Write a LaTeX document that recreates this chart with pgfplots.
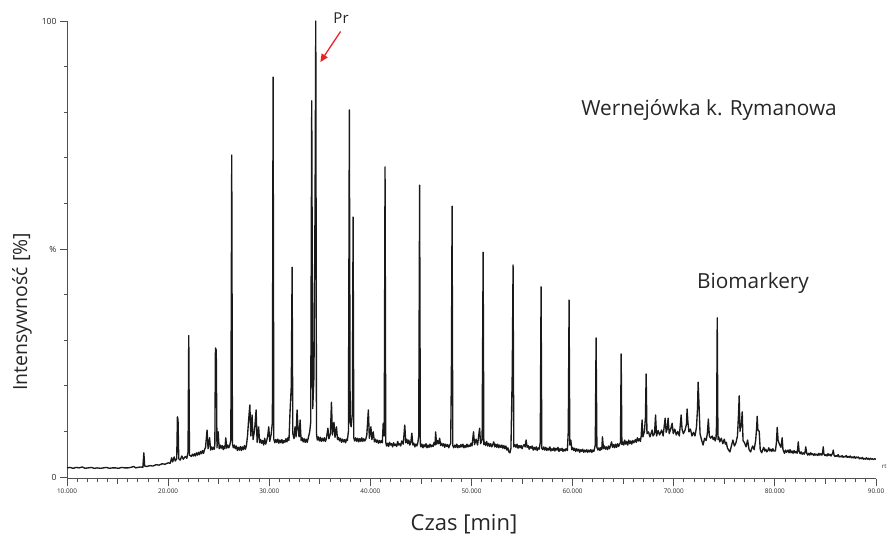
\documentclass[border=0pt]{standalone}
\usepackage{fontspec}
\setmainfont{Open Sans}
\usepackage{pgfplots}
\usepackage{pgfplotstable}
\pgfplotsset{compat=1.18}
\usetikzlibrary{arrows.meta}

\definecolor{prred}{RGB}{236,32,39}
\definecolor{axgray}{RGB}{80,80,80}

% TIC chromatogram: retention time [min], relative intensity [%]
\pgfplotstableread{
t I
10.0 2.0
10.3 2.1
10.6 1.9
10.9 2.1
11.2 2.0
11.5 2.2
11.8 1.9
12.1 2.0
12.4 2.1
12.7 1.9
13.0 2.0
13.3 1.9
13.6 2.0
13.9 2.1
14.2 1.9
14.5 2.0
14.8 2.0
15.1 1.9
15.4 2.1
15.7 2.0
16.0 2.0
16.3 2.1
16.6 2.3
16.8 2.0
17.0 2.1
17.3 2.2
17.5 2.1
17.6 5.3
17.68 2.4
17.9 2.3
18.2 2.5
18.5 2.4
18.8 2.7
19.1 2.6
19.4 2.9
19.7 2.8
20.0 3.1
20.2 3.0
20.35 4.2
20.45 3.3
20.6 4.4
20.7 3.5
20.85 4.0
20.92 13.2
20.98 12.6
21.05 4.0
21.2 3.7
21.35 4.6
21.5 3.9
21.7 4.5
21.85 4.1
21.97 5.5
22.04 31.0
22.11 4.8
22.3 4.5
22.4 5.0
22.5 4.6
22.6 5.1
22.7 4.6
22.8 5.3
22.9 4.8
23.0 5.4
23.1 4.9
23.2 5.6
23.3 5.1
23.4 5.8
23.5 5.2
23.6 6.0
23.7 6.5
23.85 10.3
23.95 6.2
24.1 8.6
24.2 5.9
24.3 6.6
24.4 6.0
24.5 6.5
24.57 6.1
24.62 7.2
24.68 28.3
24.76 27.8
24.83 6.4
24.95 9.9
25.05 6.2
25.15 7.0
25.25 6.3
25.35 6.9
25.45 6.0
25.55 6.8
25.62 6.2
25.7 8.6
25.8 6.3
25.9 7.0
26.0 6.4
26.1 7.0
26.2 8.0
26.29 70.6
26.36 7.2
26.45 6.4
26.55 7.0
26.65 6.2
26.75 6.8
26.85 5.8
26.95 6.5
27.05 5.9
27.15 6.7
27.25 5.8
27.35 6.6
27.45 6.0
27.55 6.9
27.65 6.1
27.75 7.0
27.85 9.0
27.95 12.2
28.08 15.8
28.18 9.0
28.3 13.6
28.4 8.2
28.55 10.3
28.7 14.7
28.8 7.6
28.95 11.0
29.05 7.5
29.15 8.2
29.25 7.4
29.35 8.0
29.45 7.0
29.55 8.5
29.65 7.2
29.75 8.0
29.85 9.0
29.95 11.0
30.05 7.8
30.2 9.5
30.31 12.0
30.38 87.7
30.45 8.3
30.55 7.5
30.65 8.2
30.75 7.6
30.85 8.3
30.95 7.4
31.05 8.1
31.15 7.5
31.25 8.2
31.35 7.4
31.45 8.0
31.55 7.6
31.65 8.4
31.75 7.7
31.85 8.6
31.95 8.0
32.05 14.0
32.18 20.0
32.26 46.0
32.33 9.5
32.45 8.4
32.55 11.0
32.65 8.8
32.75 14.7
32.85 10.3
32.95 8.8
33.05 12.5
33.15 8.0
33.25 8.6
33.35 7.7
33.45 8.4
33.55 7.6
33.65 8.3
33.75 7.6
33.85 8.5
34.0 9.9
34.1 12.0
34.2 82.5
34.3 15.0
34.42 22.0
34.53 60.0
34.6 100.0
34.67 9.5
34.75 8.1
34.85 8.8
34.95 7.9
35.05 8.7
35.15 7.8
35.25 8.5
35.35 7.9
35.45 8.6
35.55 7.8
35.65 8.4
35.8 10.7
35.9 8.4
36.05 9.5
36.15 16.4
36.25 9.2
36.4 12.0
36.5 8.7
36.65 11.0
36.75 8.2
36.85 8.7
36.95 7.9
37.05 8.5
37.15 7.6
37.25 8.3
37.35 7.7
37.45 8.2
37.55 7.5
37.65 8.3
37.72 8.0
37.83 10.0
37.92 80.5
38.0 12.0
38.1 11.0
38.22 14.0
38.29 57.0
38.36 8.6
38.45 7.9
38.55 8.6
38.65 7.8
38.75 8.5
38.85 7.7
38.95 8.4
39.05 7.8
39.15 8.6
39.25 7.8
39.35 8.4
39.45 7.9
39.55 8.3
39.65 9.3
39.8 14.7
39.9 8.5
40.05 11.0
40.15 8.2
40.28 9.9
40.4 7.7
40.5 8.3
40.6 7.6
40.7 8.1
40.8 7.4
40.9 8.0
41.0 7.5
41.1 8.0
41.18 7.5
41.27 11.8
41.37 9.0
41.45 68.0
41.52 7.6
41.6 6.8
41.7 7.4
41.8 6.7
41.9 7.6
42.0 7.0
42.1 7.3
42.2 6.6
42.3 7.5
42.4 6.9
42.5 7.2
42.6 6.7
42.7 7.8
42.8 7.0
42.9 7.3
43.0 6.8
43.1 7.9
43.25 7.2
43.4 11.4
43.5 7.5
43.6 8.3
43.7 7.3
43.8 8.1
43.9 7.0
44.0 7.6
44.1 9.6
44.2 7.0
44.3 7.4
44.4 6.6
44.5 7.2
44.6 6.8
44.7 7.6
44.78 9.0
44.87 64.0
44.94 7.2
45.0 6.6
45.1 7.2
45.2 6.4
45.3 7.1
45.4 6.6
45.5 7.3
45.6 6.4
45.7 7.0
45.8 6.5
45.9 7.2
46.0 6.6
46.1 7.0
46.2 6.7
46.3 7.6
46.4 7.0
46.45 9.9
46.55 7.2
46.65 8.0
46.75 7.3
46.85 8.5
46.95 6.9
47.05 7.4
47.15 6.8
47.25 7.3
47.35 6.5
47.45 7.2
47.55 6.7
47.65 7.1
47.75 6.4
47.85 7.0
47.94 7.4
48.01 22.0
48.08 59.4
48.15 6.9
48.25 6.4
48.35 7.0
48.45 6.5
48.55 7.2
48.65 6.4
48.75 6.9
48.85 6.5
48.95 7.1
49.05 6.6
49.15 7.2
49.25 6.4
49.35 6.9
49.45 6.5
49.55 7.2
49.65 6.6
49.75 7.0
49.85 6.7
49.95 7.4
50.05 6.8
50.2 9.9
50.3 7.1
50.45 8.3
50.6 7.0
50.8 10.7
50.9 7.3
51.05 8.2
51.15 49.3
51.22 7.1
51.3 7.6
51.4 6.9
51.5 7.8
51.6 6.8
51.7 7.4
51.8 6.7
51.9 7.3
52.0 6.6
52.1 7.1
52.2 7.7
52.3 6.6
52.4 7.2
52.5 6.5
52.6 7.2
52.7 6.4
52.8 7.0
52.9 6.5
53.0 7.0
53.1 6.3
53.2 6.9
53.3 6.2
53.4 6.8
53.5 5.9
53.6 6.4
53.7 5.5
53.8 5.3
53.9 6.3
54.03 23.0
54.11 46.5
54.18 6.6
54.3 7.1
54.4 6.5
54.5 7.2
54.6 6.3
54.7 6.9
54.8 6.4
54.9 6.9
55.0 6.2
55.1 6.8
55.2 7.1
55.3 6.6
55.4 8.1
55.5 6.5
55.6 6.9
55.7 6.1
55.8 6.7
55.9 6.3
56.0 6.8
56.1 5.9
56.2 6.5
56.3 6.0
56.4 6.6
56.5 5.8
56.6 6.4
56.7 6.1
56.8 7.6
56.88 41.7
56.95 6.3
57.05 6.0
57.15 6.6
57.25 5.9
57.35 6.5
57.45 5.8
57.55 6.3
57.65 5.9
57.75 6.6
57.85 5.7
57.95 6.2
58.05 5.8
58.15 6.4
58.25 5.7
58.35 6.3
58.45 5.9
58.55 6.5
58.65 5.6
58.75 6.2
58.85 5.8
58.95 6.3
59.05 5.6
59.15 6.1
59.25 5.7
59.35 6.2
59.48 5.8
59.57 10.0
59.65 38.8
59.72 7.0
59.82 8.1
59.92 6.0
60.0 6.5
60.1 5.8
60.2 6.3
60.3 5.6
60.4 6.2
60.5 5.7
60.6 6.1
60.7 5.4
60.8 6.0
60.9 5.6
61.0 6.1
61.1 5.4
61.2 5.9
61.3 5.5
61.4 6.0
61.5 5.4
61.6 5.9
61.7 5.5
61.8 6.0
61.9 5.4
62.0 5.9
62.1 5.6
62.24 7.0
62.32 30.5
62.4 6.5
62.5 5.9
62.6 6.4
62.7 5.8
62.8 6.5
62.88 6.0
62.95 8.8
63.05 6.2
63.15 6.8
63.25 6.1
63.35 6.6
63.45 6.0
63.55 6.8
63.65 6.2
63.75 6.9
63.85 7.7
63.95 6.5
64.05 7.1
64.15 6.4
64.25 7.2
64.35 6.5
64.45 7.3
64.55 6.7
64.65 7.2
64.73 7.6
64.8 27.0
64.87 7.1
64.95 7.7
65.05 7.0
65.15 8.1
65.25 7.2
65.35 7.8
65.45 7.0
65.55 8.1
65.65 7.3
65.75 7.9
65.85 7.2
65.95 8.0
66.05 7.5
66.2 8.2
66.3 7.6
66.4 8.6
66.5 7.9
66.6 8.4
66.7 7.8
66.78 9.0
66.87 12.5
66.95 8.8
67.1 10.0
67.2 13.0
67.27 22.6
67.35 9.5
67.5 9.9
67.65 8.8
67.86 10.3
67.95 9.0
68.1 9.5
68.2 13.6
68.3 9.0
68.45 10.2
68.6 9.2
68.8 10.3
68.95 9.0
69.05 11.0
69.15 12.9
69.25 9.8
69.35 10.5
69.44 12.9
69.55 9.5
69.7 10.5
69.84 11.8
69.95 9.5
70.1 10.5
70.25 9.2
70.4 10.0
70.55 9.0
70.65 11.5
70.73 13.6
70.82 10.5
70.95 9.5
71.1 10.2
71.25 11.5
71.32 14.9
71.4 12.0
71.5 9.9
71.65 10.5
71.8 9.0
71.95 9.8
72.1 9.0
72.25 11.0
72.35 15.0
72.41 20.8
72.48 16.9
72.6 9.5
72.75 8.1
72.9 7.0
73.05 8.5
73.2 8.0
73.32 9.5
73.42 12.7
73.52 9.0
73.65 8.5
73.8 9.0
73.9 8.2
74.0 8.7
74.1 7.9
74.18 8.5
74.24 12.0
74.3 34.9
74.37 8.2
74.45 8.8
74.55 7.7
74.7 8.5
74.85 7.3
75.0 8.3
75.1 7.2
75.2 7.6
75.3 6.4
75.4 6.0
75.55 5.5
75.7 6.8
75.85 8.1
76.0 6.8
76.15 7.5
76.3 9.0
76.41 14.0
76.47 17.8
76.55 10.0
76.7 12.0
76.77 14.3
76.85 8.0
77.0 7.5
77.15 6.6
77.3 8.1
77.45 6.0
77.6 5.5
77.7 6.2
77.8 6.8
77.95 6.0
78.1 8.0
78.2 11.0
78.25 13.3
78.32 10.3
78.45 10.0
78.55 6.0
78.7 5.3
78.8 6.0
78.9 6.5
79.0 5.7
79.1 6.1
79.2 5.5
79.3 5.8
79.4 6.4
79.5 5.7
79.6 6.1
79.7 5.6
79.8 6.2
79.9 5.7
80.05 5.7
80.15 7.5
80.23 10.9
80.32 8.0
80.45 7.2
80.6 6.5
80.72 8.6
80.8 6.0
80.95 5.2
81.05 5.9
81.15 5.4
81.3 5.9
81.4 5.3
81.5 6.0
81.6 5.3
81.7 5.7
81.8 5.2
81.9 5.8
82.0 5.3
82.1 5.6
82.2 5.2
82.25 6.0
82.31 7.7
82.4 5.6
82.5 5.1
82.6 5.5
82.7 5.0
82.8 5.3
82.9 5.0
82.98 5.4
83.05 6.6
83.15 5.2
83.25 4.8
83.35 5.2
83.45 4.8
83.55 5.3
83.65 4.9
83.75 5.1
83.85 4.7
83.95 5.1
84.05 4.8
84.15 5.0
84.25 4.7
84.35 5.2
84.45 4.8
84.55 5.1
84.65 4.8
84.72 5.3
84.78 6.6
84.85 5.0
84.95 4.7
85.05 4.9
85.15 4.6
85.25 5.1
85.35 4.7
85.45 5.0
85.55 4.6
85.65 5.0
85.72 5.2
85.77 5.9
85.85 4.8
85.95 4.5
86.05 4.7
86.15 4.5
86.25 4.9
86.35 4.4
86.45 4.6
86.55 4.4
86.65 4.7
86.75 4.3
86.85 4.5
86.95 4.4
87.05 4.7
87.15 4.3
87.25 4.5
87.35 4.3
87.45 4.6
87.55 4.2
87.65 4.4
87.75 4.2
87.85 4.5
87.95 4.1
88.05 4.4
88.15 4.2
88.25 4.4
88.35 4.0
88.45 4.2
88.55 4.0
88.65 4.3
88.75 3.9
88.85 4.1
88.95 3.9
89.05 4.2
89.15 3.9
89.25 4.1
89.35 3.8
89.45 4.1
89.55 3.9
89.65 4.0
89.75 3.8
89.85 4.0
90.0 3.9
}\chrom

\begin{document}
\begin{tikzpicture}[x=1pt,y=1pt]
\useasboundingbox (-67,-58) rectangle (823,479);
\begin{axis}[
  at={(0,0)}, anchor=south west,
  scale only axis, width=809pt, height=458pt,
  xmin=10, xmax=90, ymin=-0.44, ymax=100,
  clip=false,
  axis x line*=bottom, axis y line*=left,
  axis line style={axgray, line width=1pt, -},
  tick align=outside,
  major tick length=7pt, minor tick length=3.5pt,
  tick style={axgray, line width=0.8pt},
  xtick={10,20,...,90},
  xticklabels={10.000,20.000,30.000,40.000,50.000,60.000,70.000,80.000,90.00},
  minor x tick num=9,
  extra x ticks={15,25,35,45,55,65,75,85},
  extra x tick labels={},
  extra x tick style={major tick length=5pt},
  ytick={0,50,100},
  yticklabels={0,\%,100},
  minor ytick={10,20,30,40,60,70,80,90},
  /pgf/number format/assume math mode=true,
  x tick label style={font=\fontsize{6.4}{7}\selectfont, text=black!85, yshift=1pt},
  y tick label style={font=\fontsize{8.5}{9}\selectfont, text=black!85},
]
\addplot[black!90, line width=1.35pt, line join=round] table[x=t, y=I] {\chrom};

% pristane annotation
\node[font=\fontsize{15}{18}\selectfont, text=black!85] at (axis cs:37.1,100.6) {Pr};
\draw[prred, line width=1.3pt, -{Triangle[length=8pt,width=7pt]}]
  (axis cs:37.05,97.7) -- (axis cs:35.05,91.0);

\node[font=\fontsize{6}{7}\selectfont, text=black!85] at (axis cs:90.8,2.3) {rt};
\end{axis}

\node[font=\fontsize{20.8}{24}\selectfont, text=black!85] at (642,369) {Wernejówka k. Rymanowa};
\node[font=\fontsize{20.8}{24}\selectfont, text=black!85] at (686,196) {Biomarkery};
\node[font=\fontsize{22}{26}\selectfont, text=black!85] at (397,-45) {Czas [min]};
\node[font=\fontsize{19.5}{24}\selectfont, text=black!85, rotate=90] at (-45,167) {Intensywność [\%]};
\end{tikzpicture}
\end{document}
